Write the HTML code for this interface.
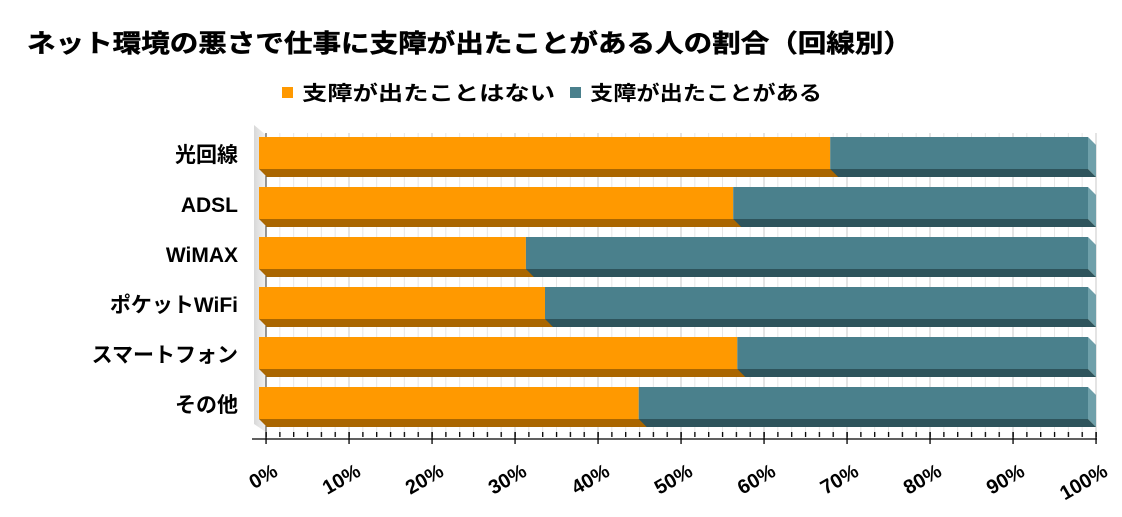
<!DOCTYPE html>
<html><head><meta charset="utf-8"><style>
html,body{margin:0;padding:0;background:#fff;}
svg{display:block;}
text{font-family:"Liberation Sans","Noto Sans CJK JP",sans-serif;font-weight:bold;fill:#000;}
</style></head><body>
<svg width="1122" height="517" xmlns="http://www.w3.org/2000/svg">
<defs>
<linearGradient id="wall" x1="0" x2="1" y1="0" y2="0"><stop offset="0" stop-color="#d8d8d8"/><stop offset="1" stop-color="#f2f2f2"/></linearGradient>
<pattern id="minor" patternUnits="userSpaceOnUse" x="265.5" y="0" width="13.8333" height="10"><rect x="0" y="0" width="1" height="10" fill="#e6e6e6"/></pattern>
<pattern id="major" patternUnits="userSpaceOnUse" x="265.5" y="0" width="83" height="10"><rect x="0" y="0" width="1" height="10" fill="#c8c8c8"/></pattern>
<pattern id="tminor" patternUnits="userSpaceOnUse" x="265.4" y="0" width="13.8333" height="10"><rect x="0" y="0" width="1.3" height="10" fill="#000"/></pattern>
<pattern id="tmajor" patternUnits="userSpaceOnUse" x="265.4" y="0" width="83" height="10"><rect x="0" y="0" width="1.3" height="10" fill="#000"/></pattern>
</defs>
<text x="27" y="52" font-size="25" textLength="885" lengthAdjust="spacingAndGlyphs" stroke="#000" stroke-width="0.5">ネット環境の悪さで仕事に支障が出たことがある人の割合（回線別）</text>
<rect x="282" y="87" width="11" height="11" fill="#ff9900"/>
<text x="302" y="100" font-size="20" textLength="253" lengthAdjust="spacingAndGlyphs">支障が出たことはない</text>
<rect x="570" y="87" width="11" height="11" fill="#4a808c"/>
<text x="590" y="100" font-size="20" textLength="232" lengthAdjust="spacingAndGlyphs">支障が出たことがある</text>
<polygon points="254,125 266,135 266,432 254,424" fill="url(#wall)"/>
<rect x="265" y="133" width="833" height="299" fill="url(#minor)"/>
<rect x="265" y="133" width="833" height="299" fill="url(#major)"/>
<rect x="265" y="432" width="833" height="5" fill="url(#tminor)"/>
<rect x="265" y="432" width="833" height="12" fill="url(#tmajor)"/>
<line x1="252" y1="439" x2="1097" y2="439" stroke="#000" stroke-width="1.3"/>
<line x1="266" y1="133" x2="266" y2="432" stroke="#333" stroke-width="1"/>

<g>
<polygon points="259,169 1088,169 1096,177 267,177" fill="#aa6600"/>
<polygon points="830.2,169 1088,169 1096,177 838.2,177" fill="#2e545c"/>
<polygon points="1088,137 1096,145 1096,177 1088,169" fill="#6fa0aa"/>
<rect x="259" y="137" width="571.2" height="32" fill="#ff9900"/>
<rect x="830.2" y="137" width="257.8" height="32" fill="#4a808c"/>
</g>
<g>
<polygon points="259,219 1088,219 1096,227 267,227" fill="#aa6600"/>
<polygon points="733.2,219 1088,219 1096,227 741.2,227" fill="#2e545c"/>
<polygon points="1088,187 1096,195 1096,227 1088,219" fill="#6fa0aa"/>
<rect x="259" y="187" width="474.2" height="32" fill="#ff9900"/>
<rect x="733.2" y="187" width="354.8" height="32" fill="#4a808c"/>
</g>
<g>
<polygon points="259,269 1088,269 1096,277 267,277" fill="#aa6600"/>
<polygon points="525.9,269 1088,269 1096,277 533.9,277" fill="#2e545c"/>
<polygon points="1088,237 1096,245 1096,277 1088,269" fill="#6fa0aa"/>
<rect x="259" y="237" width="266.9" height="32" fill="#ff9900"/>
<rect x="525.9" y="237" width="562.1" height="32" fill="#4a808c"/>
</g>
<g>
<polygon points="259,319 1088,319 1096,327 267,327" fill="#aa6600"/>
<polygon points="545,319 1088,319 1096,327 553,327" fill="#2e545c"/>
<polygon points="1088,287 1096,295 1096,327 1088,319" fill="#6fa0aa"/>
<rect x="259" y="287" width="286" height="32" fill="#ff9900"/>
<rect x="545" y="287" width="543" height="32" fill="#4a808c"/>
</g>
<g>
<polygon points="259,369 1088,369 1096,377 267,377" fill="#aa6600"/>
<polygon points="737.3,369 1088,369 1096,377 745.3,377" fill="#2e545c"/>
<polygon points="1088,337 1096,345 1096,377 1088,369" fill="#6fa0aa"/>
<rect x="259" y="337" width="478.3" height="32" fill="#ff9900"/>
<rect x="737.3" y="337" width="350.7" height="32" fill="#4a808c"/>
</g>
<g>
<polygon points="259,419 1088,419 1096,427 267,427" fill="#aa6600"/>
<polygon points="638.7,419 1088,419 1096,427 646.7,427" fill="#2e545c"/>
<polygon points="1088,387 1096,395 1096,427 1088,419" fill="#6fa0aa"/>
<rect x="259" y="387" width="379.7" height="32" fill="#ff9900"/>
<rect x="638.7" y="387" width="449.3" height="32" fill="#4a808c"/>
</g>

<g font-size="21" text-anchor="end">
<text x="238" y="162">光回線</text>
<text x="238" y="212">ADSL</text>
<text x="238" y="262">WiMAX</text>
<text x="238" y="312">ポケットWiFi</text>
<text x="238" y="362">スマートフォン</text>
<text x="238" y="412">その他</text>
</g>

<g font-size="20" text-anchor="end">
<text transform="translate(279,475) rotate(-30)">0%</text>
<text transform="translate(362,475) rotate(-30)">10%</text>
<text transform="translate(445,475) rotate(-30)">20%</text>
<text transform="translate(528,475) rotate(-30)">30%</text>
<text transform="translate(611,475) rotate(-30)">40%</text>
<text transform="translate(694,475) rotate(-30)">50%</text>
<text transform="translate(777,475) rotate(-30)">60%</text>
<text transform="translate(860,475) rotate(-30)">70%</text>
<text transform="translate(943,475) rotate(-30)">80%</text>
<text transform="translate(1026,475) rotate(-30)">90%</text>
<text transform="translate(1109,475) rotate(-30)">100%</text>
</g>
</svg>
</body></html>
